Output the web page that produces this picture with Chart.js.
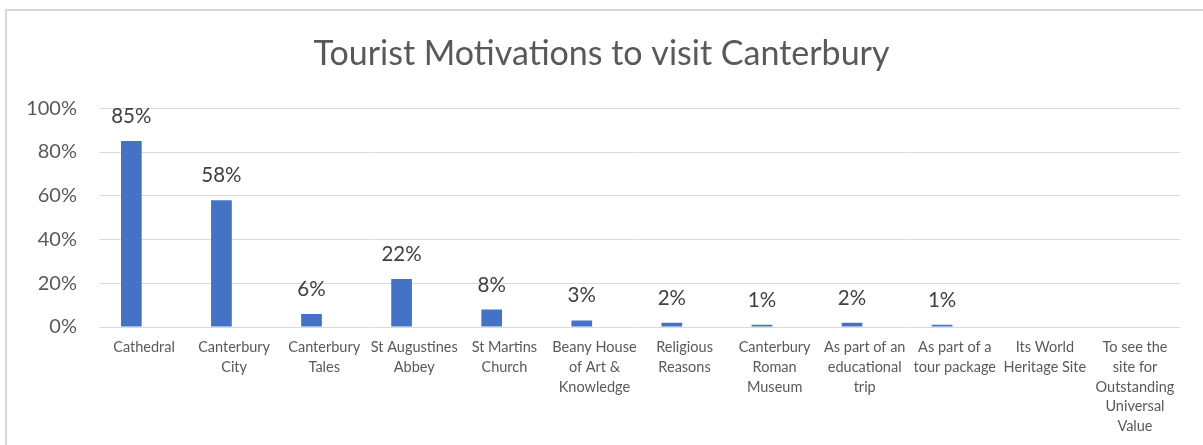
<!DOCTYPE html>
<html>
<head>
<meta charset="utf-8">
<script src="https://cdn.jsdelivr.net/npm/chart.js@4/dist/chart.umd.min.js"></script>
<style>
  html, body { margin: 0; padding: 0; background: #ffffff; overflow: hidden; }
  #frame { position: absolute; left: 5px; top: 9px; width: 1400px; height: 600px;
           border-left: 2px solid #d9d9d9; border-top: 2px solid #d9d9d9; box-sizing: border-box; }
  #wrap { position: absolute; left: 0; top: 0; width: 1203px; height: 445px; }
</style>
</head>
<body>
<div id="frame"></div>
<div id="wrap"><canvas id="c" width="1203" height="445"></canvas></div>
<script>
const chartTitle = "Tourist Motivations to visit Canterbury";
const categories = [
  ["Cathedral"],
  ["Canterbury", "City"],
  ["Canterbury", "Tales"],
  ["St Augustines", "Abbey"],
  ["St Martins", "Church"],
  ["Beany House", "of Art &", "Knowledge"],
  ["Religious", "Reasons"],
  ["Canterbury", "Roman", "Museum"],
  ["As part of an", "educational", "trip"],
  ["As part of a", "tour package"],
  ["Its World", "Heritage Site"],
  ["To see the", "site for", "Outstanding", "Universal", "Value"]
];
const motivationPct = [85, 58, 6, 22, 8, 3, 2, 1, 2, 1, null, null];
const emptySeries = [null, null, null, null, null, null, null, null, null, null, null, null];
const yTicks = [0, 20, 40, 60, 80, 100];

const FONT = "Lato, 'Open Sans', sans-serif";

const valueLabels = {
  id: 'valueLabels',
  afterDatasetsDraw(chart) {
    const ctx = chart.ctx;
    const meta = chart.getDatasetMeta(0);
    ctx.save();
    ctx.font = "20.5px " + FONT;
    ctx.fillStyle = "#404040";
    ctx.textAlign = "center";
    ctx.textBaseline = "alphabetic";
    meta.data.forEach((bar, i) => {
      const v = chart.data.datasets[0].data[i];
      if (v === null || v === undefined) return;
      ctx.fillText(v + "%", bar.x, bar.y - 18);
    });
    ctx.restore();
  }
};

new Chart(document.getElementById('c'), {
  type: 'bar',
  data: {
    labels: categories,
    datasets: [
      { label: "Motivation", data: motivationPct, backgroundColor: "#4472C4",
        categoryPercentage: 0.564, barPercentage: 0.815 },
      { label: "", data: emptySeries, backgroundColor: "#ED7D31",
        categoryPercentage: 0.564, barPercentage: 0.815 }
    ]
  },
  options: {
    responsive: false,
    animation: false,
    devicePixelRatio: 1,
    layout: { padding: { left: 23, right: 23, top: 0, bottom: 0 } },
    plugins: {
      legend: { display: false },
      tooltip: { enabled: false },
      title: {
        display: true,
        text: chartTitle,
        color: "#595959",
        font: { family: FONT, size: 34, weight: 'normal', lineHeight: 1.2 },
        padding: { top: 34, bottom: 33.5 }
      }
    },
    scales: {
      x: {
        grid: { display: false, drawTicks: false },
        border: { display: false },
        ticks: {
          color: "#595959",
          font: { family: FONT, size: 14.5, lineHeight: 1.35 },
          padding: 11,
          maxRotation: 0,
          minRotation: 0,
          autoSkip: false
        },
        afterFit(axis) { axis.height = 118; }
      },
      y: {
        min: 0,
        max: 100,
        afterBuildTicks(axis) { axis.ticks = yTicks.map(v => ({ value: v })); },
        grid: { color: "#d9d9d9", lineWidth: 1, drawTicks: false },
        border: { display: false },
        ticks: {
          color: "#595959",
          font: { family: FONT, size: 20 },
          padding: 22,
          callback: v => v + "%"
        },
        afterFit(axis) { axis.width = 76; }
      }
    }
  },
  plugins: [valueLabels]
});
</script>
</body>
</html>
